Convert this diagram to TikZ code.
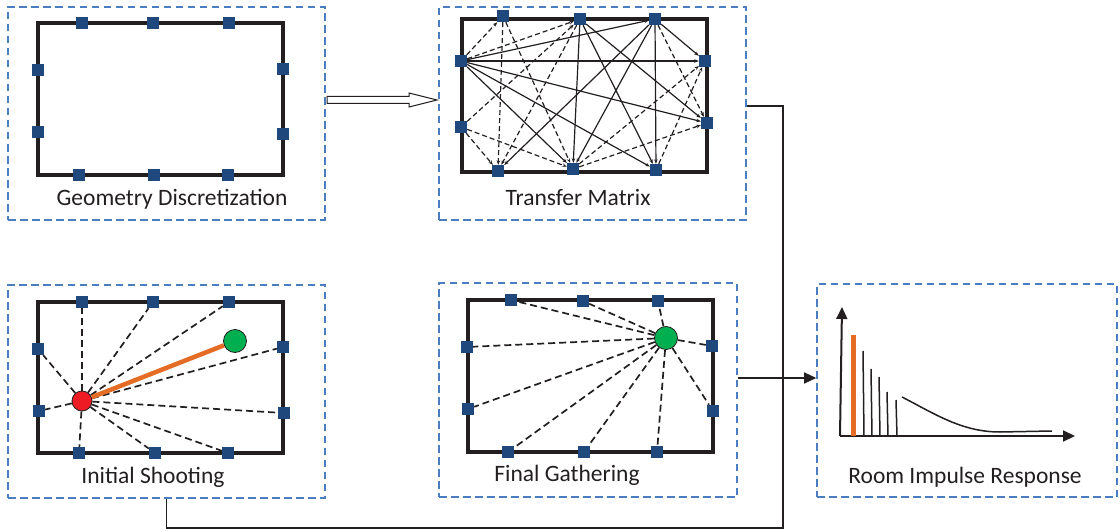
\documentclass[tikz,border=0pt]{standalone}
\usepackage{fontspec}
\setmainfont{Carlito}
\usetikzlibrary{arrows.meta,calc}
\definecolor{boxblue}{RGB}{74,126,193}
\definecolor{sqblue}{RGB}{31,73,125}
\definecolor{ink}{RGB}{35,31,32}
\definecolor{orng}{RGB}{228,108,37}
\definecolor{grn}{RGB}{0,176,80}
\definecolor{rd}{RGB}{237,28,36}
\tikzset{
  panel/.style={draw=boxblue, line width=1.6pt, dash pattern=on 7.5pt off 4.5pt, inner sep=0pt, rectangle},
  room/.style={draw=ink, line width=3.4pt},
  sq/.style={fill=sqblue, draw=none, minimum size=12pt, inner sep=0pt, rectangle},
  lbl/.style={text=ink, font=\fontsize{23.5}{28}\selectfont, inner sep=0pt},
  ray/.style={draw=ink, line width=1.7pt, dash pattern=on 7pt off 4pt},
  tline/.style={draw=ink, line width=1.2pt, -{Stealth[length=4.5pt,width=3.5pt]}},
  tdash/.style={draw=ink, line width=1.2pt, dash pattern=on 5pt off 3pt, -{Stealth[length=4.5pt,width=3.5pt]}},
  ball/.style={circle, draw=ink, line width=0.8pt, inner sep=0pt},
  conn/.style={draw=ink, line width=1.3pt},
  axis/.style={draw=ink, line width=2pt, -{Triangle[length=12pt,width=11pt]}},
  spike/.style={draw=ink, line width=1.5pt}
}
\begin{document}
\begin{tikzpicture}[x=1pt,y=-1pt]
\useasboundingbox (0,0) rectangle (1120,532);

% ---------- panels ----------
\node[panel, minimum width=317pt, minimum height=213pt] (p1) at (166.5,113.5) {};
\node[panel, minimum width=307pt, minimum height=213pt] (p2) at (592.5,113.5) {};
\node[panel, minimum width=317pt, minimum height=213pt] (p3) at (166.5,391.5) {};
\node[panel, minimum width=298pt, minimum height=214pt] (p4) at (588,390) {};
\node[panel, minimum width=300pt, minimum height=213pt] (p5) at (967,390.5) {};

% ---------- labels ----------
\node[lbl] (l1) at (172,199) {Geometry Discretization};
\node[lbl] (l2) at (578,198) {Transfer Matrix};
\node[lbl] (l3) at (153,477) {Initial Shooting};
\node[lbl] (l4) at (567,475) {Final Gathering};
\node[lbl] (l5) at (965,477) {Room Impulse Response};

% ---------- panel 1: geometry discretization ----------
\draw[room] (38,23) rectangle (283,175);
\node[sq] (g1) at (82,23) {};
\node[sq] (g2) at (153,23) {};
\node[sq] (g3) at (229,23) {};
\node[sq] (g4) at (38,70) {};
\node[sq] (g5) at (38,132) {};
\node[sq] (g6) at (283,69) {};
\node[sq] (g7) at (283,134) {};
\node[sq] (g8) at (79,175) {};
\node[sq] (g9) at (154,175) {};
\node[sq] (g10) at (228,175) {};

% ---------- panel 2: transfer matrix ----------
\draw[room] (462,19) rectangle (707,172);
\node[sq] (T1) at (503,16) {};
\node[sq] (T2) at (580,19) {};
\node[sq] (T3) at (655,19) {};
\node[sq] (L1) at (461,61) {};
\node[sq] (L2) at (461,127) {};
\node[sq] (R1) at (705,61) {};
\node[sq] (R2) at (707,123) {};
\node[sq] (B1) at (498,171) {};
\node[sq] (B2) at (573,169) {};
\node[sq] (B3) at (656,170) {};
\foreach \a/\b in {L1/T3, L1/R1, L1/R2, L1/B2, L1/B3, T2/B2, T2/B3, T2/R2, T3/B1, T3/B2, T3/B3, T3/R1}
  \draw[tline] (\a) -- (\b);
\foreach \a/\b in {L1/T1, L1/T2, L2/T2, T1/B1, T1/B2, T2/B1, L2/B1, L2/B2, T3/R2, B2/R1, B3/R1, B2/R2}
  \draw[tdash] (\a) -- (\b);

% ---------- panel 3: initial shooting ----------
\draw[room] (38,302) rectangle (283,453);
\node[sq] (s1) at (82,302) {};
\node[sq] (s2) at (153,302) {};
\node[sq] (s3) at (229,302) {};
\node[sq] (s4) at (38,349) {};
\node[sq] (s5) at (39,411) {};
\node[sq] (s6) at (283,347) {};
\node[sq] (s7) at (284,413) {};
\node[sq] (s8) at (79,453) {};
\node[sq] (s9) at (155,453) {};
\node[sq] (s10) at (228,453) {};
\node[ball, fill=rd, minimum size=20pt] (src) at (82,401) {};
\node[ball, fill=grn, minimum size=23pt] (rcv) at (235,341) {};
\foreach \s in {s1,s2,s3,s4,s5,s6,s7,s8,s9,s10}
  \draw[ray] (src) -- (\s);
\draw[orng, line width=4.5pt] (src) -- (rcv);

% ---------- panel 4: final gathering ----------
\draw[room] (468,300) rectangle (713,452);
\node[sq] (f1) at (511,300) {};
\node[sq] (f2) at (583,301) {};
\node[sq] (f3) at (658,301) {};
\node[sq] (f4) at (467,347) {};
\node[sq] (f5) at (468,409) {};
\node[sq] (f6) at (712,346) {};
\node[sq] (f7) at (713,411) {};
\node[sq] (f8) at (508,452) {};
\node[sq] (f9) at (584,452) {};
\node[sq] (f10) at (657,452) {};
\node[ball, fill=grn, minimum size=23pt] (gat) at (666,338) {};
\foreach \s in {f1,f2,f3,f4,f5,f6,f7,f8,f9,f10}
  \draw[ray] (gat) -- (\s);

% ---------- panel 5: room impulse response ----------
\coordinate (o) at (840,436);
\coordinate (ytip) at (842,307);
\coordinate (xtip) at (1075,436);
\draw[axis] (o) -- (ytip);
\draw[axis] (o) -- (xtip);
\fill[orng] (851,335) rectangle (856,436);
\draw[spike] (864,436) -- (863,351);
\draw[spike] (872,436) -- (871,369);
\draw[spike] (880,436) -- (879,377);
\draw[spike] (888,436) -- (887,392);
\draw[spike] (897,436) -- (896,400);
\draw[ink, line width=1.5pt] (902,397) .. controls (935,414) and (962,432) .. (1000,432) -- (1052,431);

% ---------- connectors ----------
\coordinate (ha) at (327,100);
\coordinate (hb) at (437,100);
\draw[ink, line width=1pt, fill=white, line join=miter]
  ($(ha)+(0,-3.5)$) -- ($(hb)+(-28,-3.5)$) -- ($(hb)+(-28,-7)$) -- (hb)
  -- ($(hb)+(-28,7)$) -- ($(hb)+(-28,3.5)$) -- ($(ha)+(0,3.5)$) -- cycle;

\coordinate (busT) at (783,106);
\coordinate (busB) at (783,528);
\draw[conn] (p2.east |- busT) -- (busT) -- (busB) -| (p3.south);

\coordinate (ay) at (0,378);
\draw[conn, -{Triangle[length=12pt,width=11pt]}] (p4.east |- ay) -- (p5.west |- ay);
\end{tikzpicture}
\end{document}
